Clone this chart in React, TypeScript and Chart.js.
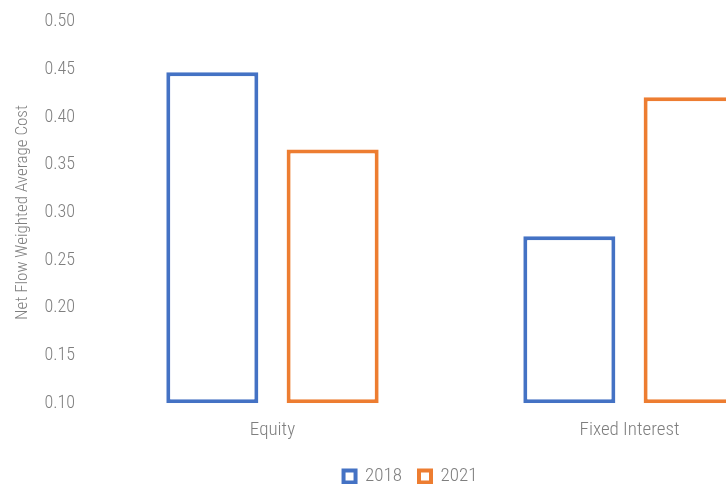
import React, { useEffect, useRef } from "react";
import { Chart, registerables } from "chart.js";

Chart.register(...registerables);

const categories = ["Equity", "Fixed Interest"];
const series2018 = [0.447, 0.275];
const series2021 = [0.366, 0.421];
const seriesLabels = ["2018", "2021"];

const FONT = "'Roboto Condensed', Roboto, sans-serif";
const GREY = "#7f7f7f";

const W = 820;
const H = 496;

export default function App() {
  const ref = useRef<HTMLCanvasElement | null>(null);
  useEffect(() => {
    const ctx = ref.current!;
    const chart = new Chart(ctx, {
      type: "bar",
      data: {
        labels: categories,
        datasets: [
          {
            label: seriesLabels[0],
            data: series2018,
            base: 0.1,
            backgroundColor: "#ffffff",
            borderColor: "#4472c4",
            borderWidth: 4,
            borderSkipped: false,
          },
          {
            label: seriesLabels[1],
            data: series2021,
            base: 0.1,
            backgroundColor: "#ffffff",
            borderColor: "#ed7d31",
            borderWidth: 4,
            borderSkipped: false,
          },
        ],
      },
      options: {
        animation: false,
        responsive: false,
        maintainAspectRatio: false,
        layout: { padding: { top: 21, right: 12, left: 13, bottom: 0 } },
        datasets: { bar: { categoryPercentage: 0.674, barPercentage: 0.765 } },
        scales: {
          x: {
            grid: { display: false },
            border: { display: false },
            ticks: { color: GREY, font: { family: FONT, size: 19, weight: "300" }, padding: 8 },
          },
          y: {
            min: 0.1,
            max: 0.5,
            grid: { display: false },
            border: { display: false },
            ticks: {
              stepSize: 0.05,
              color: GREY,
              font: { family: FONT, size: 18, weight: "300" },
              padding: 11,
              callback: (v: any) => Number(v).toFixed(2),
            },
            title: {
              display: true,
              text: "Net Flow Weighted Average Cost",
              color: GREY,
              font: { family: FONT, size: 17, weight: "300" },
              padding: { top: 0, bottom: 0 },
            },
          },
        },
        plugins: {
          legend: {
            position: "bottom",
            labels: {
              color: GREY,
              font: { family: FONT, size: 19, weight: "300" },
              boxWidth: 12,
              boxHeight: 12,
              padding: 17,
            },
          },
          tooltip: { enabled: false },
        },
      },
    });
    return () => chart.destroy();
  }, []);
  return (
    <div style={{ position: "fixed", left: 0, top: 0, width: 726, height: 484, overflow: "hidden", background: "#fff" }}>
      <canvas ref={ref} width={W} height={H} style={{ width: W, height: H, display: "block" }} />
    </div>
  );
}
